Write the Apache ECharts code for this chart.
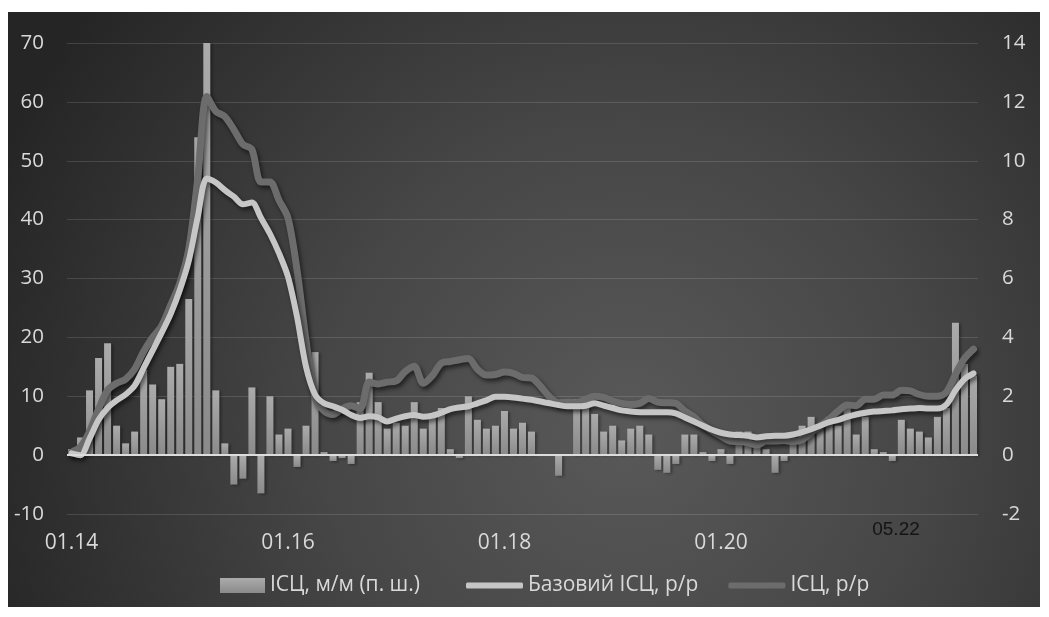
<!DOCTYPE html>
<html>
<head>
<meta charset="utf-8">
<script src="https://cdn.jsdelivr.net/npm/echarts@6/dist/echarts.min.js"></script>
<style>
  html, body { margin: 0; padding: 0; background: #ffffff; }
  #chart { width: 1049px; height: 617px; }
</style>
</head>
<body>
<div id="chart"></div>
<script>
// Monthly CPI series, 01.2014 - 05.2022
const startYear = 2014;
const monthCount = 101;
const categories = [];
for (let i = 0; i < monthCount; i++) {
  const m = (i % 12) + 1;
  const y = (startYear + Math.floor(i / 12)) % 100;
  categories.push(String(m).padStart(2, '0') + '.' + String(y).padStart(2, '0'));
}

// Axis labels shown on the time axis
const xTickLabels = ['01.14', '01.16', '01.18', '01.20'];
const lastPeriodLabel = '05.22';

const seriesNames = ['ІСЦ, м/м (п. ш.)', 'Базовий ІСЦ, р/р', 'ІСЦ, р/р'];

// CPI, month over month, % (right scale)
const cpiMoM = [
  0.2, 0.6, 2.2, 3.3, 3.8, 1.0, 0.4, 0.8, 2.9, 2.4, 1.9, 3.0,
  3.1, 5.3, 10.8, 14.0, 2.2, 0.4, -1.0, -0.8, 2.3, -1.3, 2.0, 0.7,
  0.9, -0.4, 1.0, 3.5, 0.1, -0.2, -0.1, -0.3, 1.8, 2.8, 1.8, 0.9,
  1.1, 1.0, 1.8, 0.9, 1.3, 1.6, 0.2, -0.1, 2.0, 1.2, 0.9, 1.0,
  1.5, 0.9, 1.1, 0.8, 0.0, 0.0, -0.7, 0.0, 1.9, 1.7, 1.4, 0.8,
  1.0, 0.5, 0.9, 1.0, 0.7, -0.5, -0.6, -0.3, 0.7, 0.7, 0.1, -0.2,
  0.2, -0.3, 0.8, 0.8, 0.3, 0.2, -0.6, -0.2, 0.5, 1.0, 1.3, 0.9,
  1.3, 1.0, 1.7, 0.7, 1.3, 0.2, 0.1, -0.2, 1.2, 0.9, 0.8, 0.6,
  1.3, 1.6, 4.5, 3.1, 2.7
];

// Core CPI, year over year, % (left scale)
const coreYoY = [
  0.3, 0.0, 2.8, 6.0, 8.0, 9.3, 10.3, 11.8, 14.8, 17.8, 20.8, 24.0,
  28.0, 33.0, 40.5, 47.0, 46.3, 45.0, 43.9, 42.6, 42.9, 40.3, 37.6, 34.3,
  30.3, 23.5, 15.0, 10.3, 8.8, 8.3, 7.7, 6.8, 6.3, 6.6, 6.4, 5.7,
  6.2, 6.6, 6.8, 6.5, 6.7, 7.2, 7.8, 8.1, 8.3, 8.8, 9.3, 9.9,
  9.9, 9.8, 9.6, 9.4, 9.1, 8.8, 8.5, 8.3, 8.3, 8.4, 8.8, 8.4,
  8.0, 7.6, 7.4, 7.3, 7.3, 7.3, 7.3, 7.1, 6.4, 5.7, 5.0, 4.3,
  3.8, 3.5, 3.4, 3.3, 3.0, 3.2, 3.3, 3.3, 3.5, 3.9, 4.4, 5.0,
  5.6, 6.0, 6.5, 6.9, 7.2, 7.4, 7.5, 7.6, 7.8, 7.9, 8.0, 7.9,
  7.9, 8.6, 11.0, 12.9, 13.9
];

// CPI, year over year, % (left scale)
const cpiYoY = [
  0.5, 1.4, 4.0, 7.8, 11.0, 12.2, 12.9, 14.6, 17.6, 20.0, 22.0, 25.5,
  29.2, 35.0, 47.0, 60.9, 58.4, 57.5, 55.3, 52.8, 51.9, 46.4, 46.4, 43.3,
  40.3, 31.5, 19.5, 9.8, 7.5, 6.9, 7.9, 8.4, 7.9, 12.4, 12.1, 12.4,
  12.6, 14.2, 15.1, 12.2, 13.5, 15.6, 15.9, 16.2, 16.4, 14.6, 13.6, 13.7,
  14.1, 13.9, 13.2, 13.1, 11.7, 9.9, 8.9, 9.0, 8.9, 9.5, 10.0, 9.8,
  9.2, 8.8, 8.6, 8.8, 9.6, 9.0, 8.9, 8.8, 7.5, 6.5, 5.1, 4.1,
  3.2, 2.4, 2.3, 2.1, 1.7, 2.4, 2.4, 2.5, 2.3, 2.6, 3.8, 5.0,
  6.1, 7.5, 8.5, 8.4, 9.5, 9.5, 10.2, 10.2, 11.0, 10.9, 10.3, 10.0,
  10.0, 10.7, 13.7, 16.4, 18.0
];

const labelFont = '"Open Sans", "DejaVu Sans", sans-serif';
const labelColor = '#d9d9d9';
const lineShadow = { shadowColor: 'rgba(0,0,0,0.55)', shadowBlur: 4, shadowOffsetX: 2, shadowOffsetY: 3 };

const chart = echarts.init(document.getElementById('chart'), null, { renderer: 'canvas' });

chart.setOption({
  animation: false,
  graphic: [
    {
      type: 'rect',
      z: -10,
      silent: true,
      shape: { x: 8, y: 12, width: 1032, height: 595 },
      style: {
        fill: {
          type: 'radial', x: 0.6, y: 0.7, r: 1.15,
          colorStops: [
            { offset: 0, color: '#595959' },
            { offset: 0.45, color: '#464646' },
            { offset: 1, color: '#252525' }
          ]
        }
      }
    },
    {
      type: 'text',
      silent: true,
      style: {
        x: 896, y: 530,
        text: lastPeriodLabel,
        fill: '#141414',
        font: '19px "Liberation Sans", Arial, sans-serif',
        align: 'center',
        verticalAlign: 'middle'
      }
    }
  ],
  grid: { left: 67, right: 71, top: 43, bottom: 103 },
  legend: [
    {
      data: [{ name: seriesNames[0], icon: 'rect' }],
      left: 215, top: 568,
      itemWidth: 45, itemHeight: 15,
      textStyle: { color: labelColor, fontFamily: labelFont, fontSize: 21, lineHeight: 25 },
      selectedMode: false
    },
    {
      data: [{ name: seriesNames[1], icon: 'roundRect' }, { name: seriesNames[2], icon: 'roundRect' }],
      left: 461, top: 568,
      itemWidth: 57, itemHeight: 6, itemGap: 30,
      textStyle: { color: labelColor, fontFamily: labelFont, fontSize: 21, lineHeight: 25 },
      selectedMode: false
    }
  ],
  xAxis: {
    type: 'category',
    data: categories,
    boundaryGap: true,
    axisLine: { show: false },
    axisTick: { show: false },
    splitLine: { show: false },
    axisLabel: {
      interval: (idx, val) => xTickLabels.includes(val),
      color: labelColor,
      fontFamily: labelFont,
      fontSize: 21,
      margin: 19
    }
  },
  yAxis: [
    {
      type: 'value',
      min: -10, max: 70, interval: 10,
      position: 'left',
      axisLine: { show: false },
      axisTick: { show: false },
      splitLine: { lineStyle: { color: 'rgba(255,255,255,0.13)', width: 1 } },
      axisLabel: { color: labelColor, fontFamily: labelFont, fontSize: 20.5, margin: 23 }
    },
    {
      type: 'value',
      min: -2, max: 14, interval: 2,
      position: 'right',
      axisLine: { show: false },
      axisTick: { show: false },
      splitLine: { show: false },
      axisLabel: { color: labelColor, fontFamily: labelFont, fontSize: 20.5, margin: 24 }
    }
  ],
  series: [
    {
      name: seriesNames[0],
      type: 'bar',
      yAxisIndex: 1,
      data: cpiMoM,
      barWidth: 7,
      z: 2,
      itemStyle: {
        color: {
          type: 'linear', x: 0, y: 0, x2: 0, y2: 1,
          colorStops: [
            { offset: 0, color: '#ababab' },
            { offset: 1, color: '#8a8a8a' }
          ]
        },
        shadowColor: 'rgba(0,0,0,0.35)', shadowBlur: 3, shadowOffsetX: 2, shadowOffsetY: 1
      },
      markLine: {
        silent: true,
        symbol: 'none',
        label: { show: false },
        lineStyle: { color: '#dcdcdc', width: 2, type: 'solid' },
        data: [{ yAxis: 0 }]
      }
    },
    {
      name: seriesNames[1],
      type: 'line',
      yAxisIndex: 0,
      data: coreYoY,
      z: 4,
      color: '#c6c6c6',
      symbol: 'none',
      smooth: 0.3,
      lineStyle: Object.assign({ color: '#c6c6c6', width: 6, cap: 'round', join: 'round' }, lineShadow)
    },
    {
      name: seriesNames[2],
      type: 'line',
      yAxisIndex: 0,
      data: cpiYoY,
      z: 3,
      color: '#6c6c6c',
      symbol: 'none',
      smooth: 0.3,
      lineStyle: Object.assign({ color: '#6c6c6c', width: 7, cap: 'round', join: 'round' }, lineShadow)
    }
  ]
});
</script>
</body>
</html>
